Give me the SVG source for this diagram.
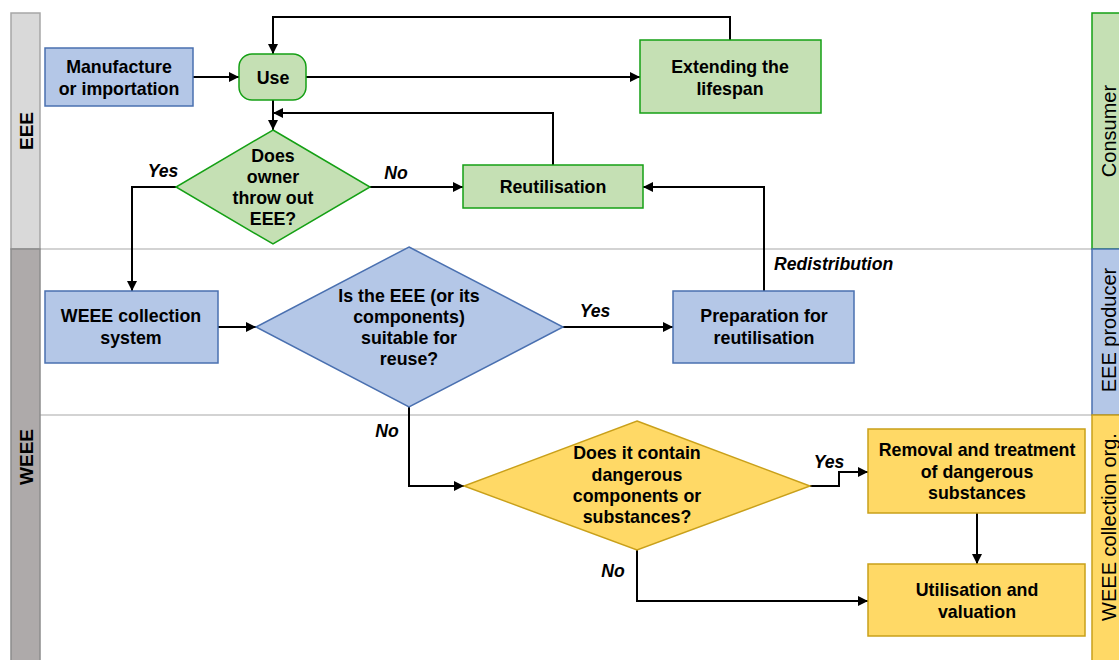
<svg xmlns="http://www.w3.org/2000/svg" width="1119" height="660" viewBox="0 0 1119 660">
  <defs>
    <marker id="arrow" viewBox="0 0 10 10" refX="10" refY="5" markerWidth="5" markerHeight="5" orient="auto" markerUnits="strokeWidth">
      <path d="M0,0 L10,5 L0,10 z" fill="#000"/>
    </marker>
    <style>
      text { font-family: "Liberation Sans", Arial, sans-serif; fill: #000; }
      .node { font-size: 17.8px; font-weight: bold; text-anchor: middle; }
      .lbl { font-size: 17.6px; font-weight: bold; font-style: italic; text-anchor: middle; }
      .lane { font-size: 19px; font-weight: bold; text-anchor: middle; }
      .role { font-size: 20px; text-anchor: middle; }
      .green { fill: #c5e0b4; stroke: #15a015; stroke-width: 1.5; }
      .blue { fill: #b4c7e7; stroke: #4a70b0; stroke-width: 1.5; }
      .yellow { fill: #ffd966; stroke: #c9a01a; stroke-width: 1.5; }
      .sep { stroke: #c4c4c4; stroke-width: 1.5; fill: none; }
      .conn path { fill: none; stroke: #000; stroke-width: 2; marker-end: url(#arrow); }
    </style>
  </defs>

  <rect width="1119" height="660" fill="#fff"/>

  <!-- swimlane separators and lane headers -->
  <g id="lanes">
    <line class="sep" x1="40" y1="249" x2="1092" y2="249"/>
    <line class="sep" x1="40" y1="415" x2="1092" y2="415"/>
    <rect x="11" y="13" width="29" height="236" fill="#d9d9d9" stroke="#a6a6a6" stroke-width="1.5"/>
    <rect x="11" y="249" width="29" height="420" fill="#aeaaaa" stroke="#8c8c8c" stroke-width="1.5"/>
    <text class="lane" transform="translate(33,131) rotate(-90)">EEE</text>
    <text class="lane" transform="translate(33,457) rotate(-90)">WEEE</text>
    <rect class="green" x="1092" y="13" width="40" height="236"/>
    <rect class="blue" x="1092" y="249" width="40" height="166"/>
    <rect class="yellow" x="1092" y="415" width="40" height="260"/>
    <text class="role" transform="translate(1116,131) rotate(-90)">Consumer</text>
    <text class="role" transform="translate(1116,330) rotate(-90)">EEE producer</text>
    <text class="role" transform="translate(1116,527) rotate(-90)">WEEE collection org.</text>
  </g>

  <!-- connectors -->
  <g id="connectors" class="conn">
    <path d="M193,77 H239"/>
    <path d="M306,77 H640"/>
    <path d="M730,40 V17 H273 V54"/>
    <path d="M273,100 V130"/>
    <path d="M553,165 V113 H273"/>
    <path d="M370,187 H463"/>
    <path d="M176,187 H132 V291"/>
    <path d="M218,327 H256"/>
    <path d="M563,327 H673"/>
    <path d="M764,291 V187 H643"/>
    <path d="M409,407 V486 H464"/>
    <path d="M810,486 H839 V472 H868"/>
    <path d="M977,513 V564"/>
    <path d="M637,550 V601 H868"/>
  </g>

  <!-- connector labels -->
  <g id="labels">
    <text class="lbl" x="163" y="177">Yes</text>
    <text class="lbl" x="396" y="179">No</text>
    <text class="lbl" x="595" y="317">Yes</text>
    <text class="lbl" x="774" y="270" style="text-anchor:start">Redistribution</text>
    <text class="lbl" x="387" y="437">No</text>
    <text class="lbl" x="829" y="468">Yes</text>
    <text class="lbl" x="613" y="577">No</text>
  </g>

  <g id="manufacture">
    <rect class="blue" x="45" y="48" width="148" height="58"/>
    <text class="node" x="119" y="73">Manufacture</text>
    <text class="node" x="119" y="95">or importation</text>
  </g>

  <g id="use">
    <rect class="green" x="239" y="54" width="67" height="46" rx="13"/>
    <text class="node" x="273" y="84">Use</text>
  </g>

  <g id="extending">
    <rect class="green" x="640" y="40" width="181" height="73"/>
    <text class="node" x="730" y="73">Extending the</text>
    <text class="node" x="730" y="95">lifespan</text>
  </g>

  <g id="throw-out">
    <polygon class="green" points="273,130 370,187 273,244 176,187"/>
    <text class="node" x="273" y="162">Does</text>
    <text class="node" x="273" y="183">owner</text>
    <text class="node" x="273" y="204">throw out</text>
    <text class="node" x="273" y="225">EEE?</text>
  </g>

  <g id="reutilisation">
    <rect class="green" x="463" y="165" width="180" height="43"/>
    <text class="node" x="553" y="193">Reutilisation</text>
  </g>

  <g id="collection">
    <rect class="blue" x="45" y="291" width="173" height="72"/>
    <text class="node" x="131" y="322">WEEE collection</text>
    <text class="node" x="131" y="344">system</text>
  </g>

  <g id="reuse-check">
    <polygon class="blue" points="409,247 563,327 409,407 256,327"/>
    <text class="node" x="409" y="302">Is the EEE (or its</text>
    <text class="node" x="409" y="323">components)</text>
    <text class="node" x="409" y="344">suitable for</text>
    <text class="node" x="409" y="365">reuse?</text>
  </g>

  <g id="preparation">
    <rect class="blue" x="673" y="291" width="181" height="72"/>
    <text class="node" x="764" y="322">Preparation for</text>
    <text class="node" x="764" y="344">reutilisation</text>
  </g>

  <g id="danger-check">
    <polygon class="yellow" points="637,421 810,486 637,550 464,486"/>
    <text class="node" x="637" y="459">Does it contain</text>
    <text class="node" x="637" y="481">dangerous</text>
    <text class="node" x="637" y="502">components or</text>
    <text class="node" x="637" y="523">substances?</text>
  </g>

  <g id="removal">
    <rect class="yellow" x="868" y="429" width="217" height="84"/>
    <text class="node" x="977" y="456">Removal and treatment</text>
    <text class="node" x="977" y="478">of dangerous</text>
    <text class="node" x="977" y="499">substances</text>
  </g>

  <g id="utilisation">
    <rect class="yellow" x="868" y="564" width="217" height="72"/>
    <text class="node" x="977" y="596">Utilisation and</text>
    <text class="node" x="977" y="618">valuation</text>
  </g>
</svg>
